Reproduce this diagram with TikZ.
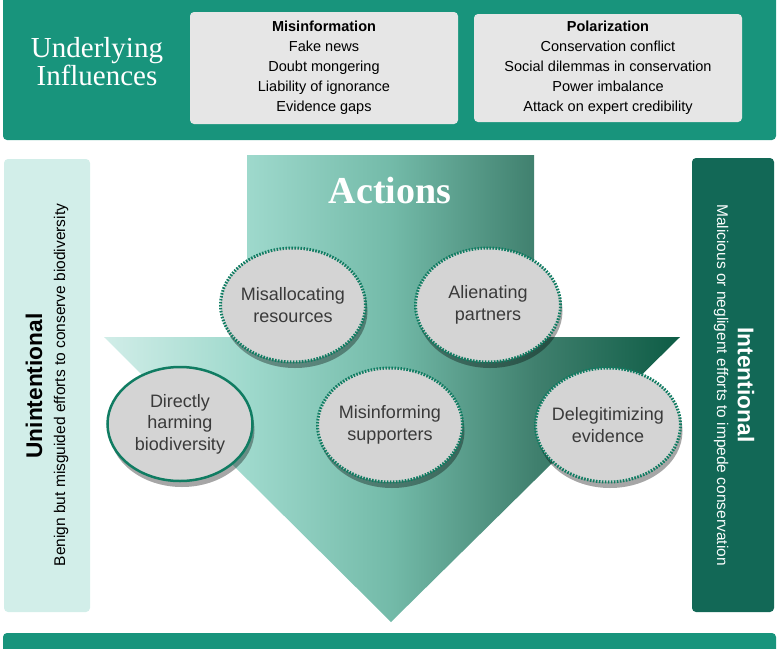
\documentclass[tikz,border=0pt]{standalone}
\usepackage{fontspec}
\setmainfont{Liberation Serif}
\setsansfont{Liberation Sans}
\usetikzlibrary{shapes.geometric, shadows}
\definecolor{bannerteal}{RGB}{24,148,124}
\definecolor{lightpanel}{RGB}{210,238,233}
\definecolor{darkpanel}{RGB}{18,104,86}
\definecolor{boxgray}{RGB}{230,230,230}
\definecolor{actgray}{RGB}{212,212,212}
\definecolor{actline}{RGB}{16,124,98}
\definecolor{acttext}{RGB}{58,58,58}
\pgfdeclarehorizontalshading{actionshade}{100bp}{%
  rgb(0bp)=(0.82,0.93,0.91); rgb(25bp)=(0.82,0.93,0.91);
  rgb(37.5bp)=(0.62,0.85,0.80); rgb(50bp)=(0.45,0.73,0.66);
  rgb(62.5bp)=(0.25,0.50,0.43); rgb(75bp)=(0.05,0.36,0.27);
  rgb(100bp)=(0.05,0.36,0.27)}
\tikzset{
  infobox/.style={
    rectangle,
    rounded corners=4pt,
    fill=boxgray,
    minimum width=268pt,
    align=center,
    font=\sffamily\fontsize{14.5}{20}\selectfont
  },
  act/.style={
    ellipse,
    draw=actline,
    fill=actgray,
    line width=3pt,
    dash pattern=on 1.6pt off 1.4pt,
    minimum width=145pt,
    minimum height=114pt,
    inner xsep=-8pt,
    inner ysep=0pt,
    align=center,
    text=acttext,
    font=\sffamily\fontsize{18}{21.6}\selectfont,
    drop shadow={shadow xshift=2pt, shadow yshift=-6pt, opacity=0.35, fill=black}
  },
  sidetitle/.style={font=\sffamily\bfseries\fontsize{22.7}{26}\selectfont},
  sidenote/.style={font=\sffamily\fontsize{15.5}{18}\selectfont}
}
\tikzstyle{panel} = [rounded corners=4pt]
\def\hd#1{\textbf{#1}}

\begin{document}
\begin{tikzpicture}[x=1pt, y=-1pt]
    \useasboundingbox (0,0) rectangle (778,648);
    \clip (0,0) rectangle (778,648);
    % banners
    \fill[bannerteal, panel] (3,-10) rectangle (776,140);
    \fill[bannerteal, panel] (3,633) rectangle (776,670);
    \node[text=white, align=center, font=\fontsize{29}{28}\selectfont] (infl) at (97,62) {Underlying\\Influences};
    \node[infobox, minimum height=112pt] (misinfo) at (324,68) {\hd{Misinformation}\\Fake news\\Doubt mongering\\Liability of ignorance\\Evidence gaps};
    \node[infobox, minimum height=108pt] (polar) at (608,68) {\hd{Polarization}\\Conservation conflict\\Social dilemmas in conservation\\Power imbalance\\Attack on expert credibility};
    % side panels
    \fill[lightpanel, panel] (4,159) rectangle (90,612);
    \fill[darkpanel, panel] (692,158) rectangle (774,612);
    \node[sidetitle, rotate=90] (unint) at (34,386) {Unintentional};
    \node[sidenote, rotate=90] (unintnote) at (61,385) {Benign but misguided efforts to conserve biodiversity};
    \node[sidetitle, rotate=-90, text=white] (int) at (746,385) {Intentional};
    \node[sidenote, rotate=-90, text=white!90!lightpanel] (intnote) at (721,385) {Malicious or negligent efforts to impede conservation};
    % big arrow
    \shade[shading=actionshade]
      (247,155) -- (534,155) -- (534,337) -- (680,337) -- (391,622) -- (104,337) -- (247,337) -- cycle;
    \node[text=white, font=\bfseries\fontsize{38}{40}\selectfont] (actions) at (390,190) {Actions};
    % actions
    \node[act] (alloc) at (293,305) {Misallocating\\resources};
    \node[act] (alien) at (488,305) {Alienating\\partners};
    \node[act, solid, line width=2.5pt] (harm) at (180,424) {Directly\\harming\\biodiversity};
    \node[act] (inform) at (390,425) {Misinforming\\supporters};
    \node[act] (deleg) at (608,425) {Delegitimizing\\evidence};
  \end{tikzpicture}
\end{document}
